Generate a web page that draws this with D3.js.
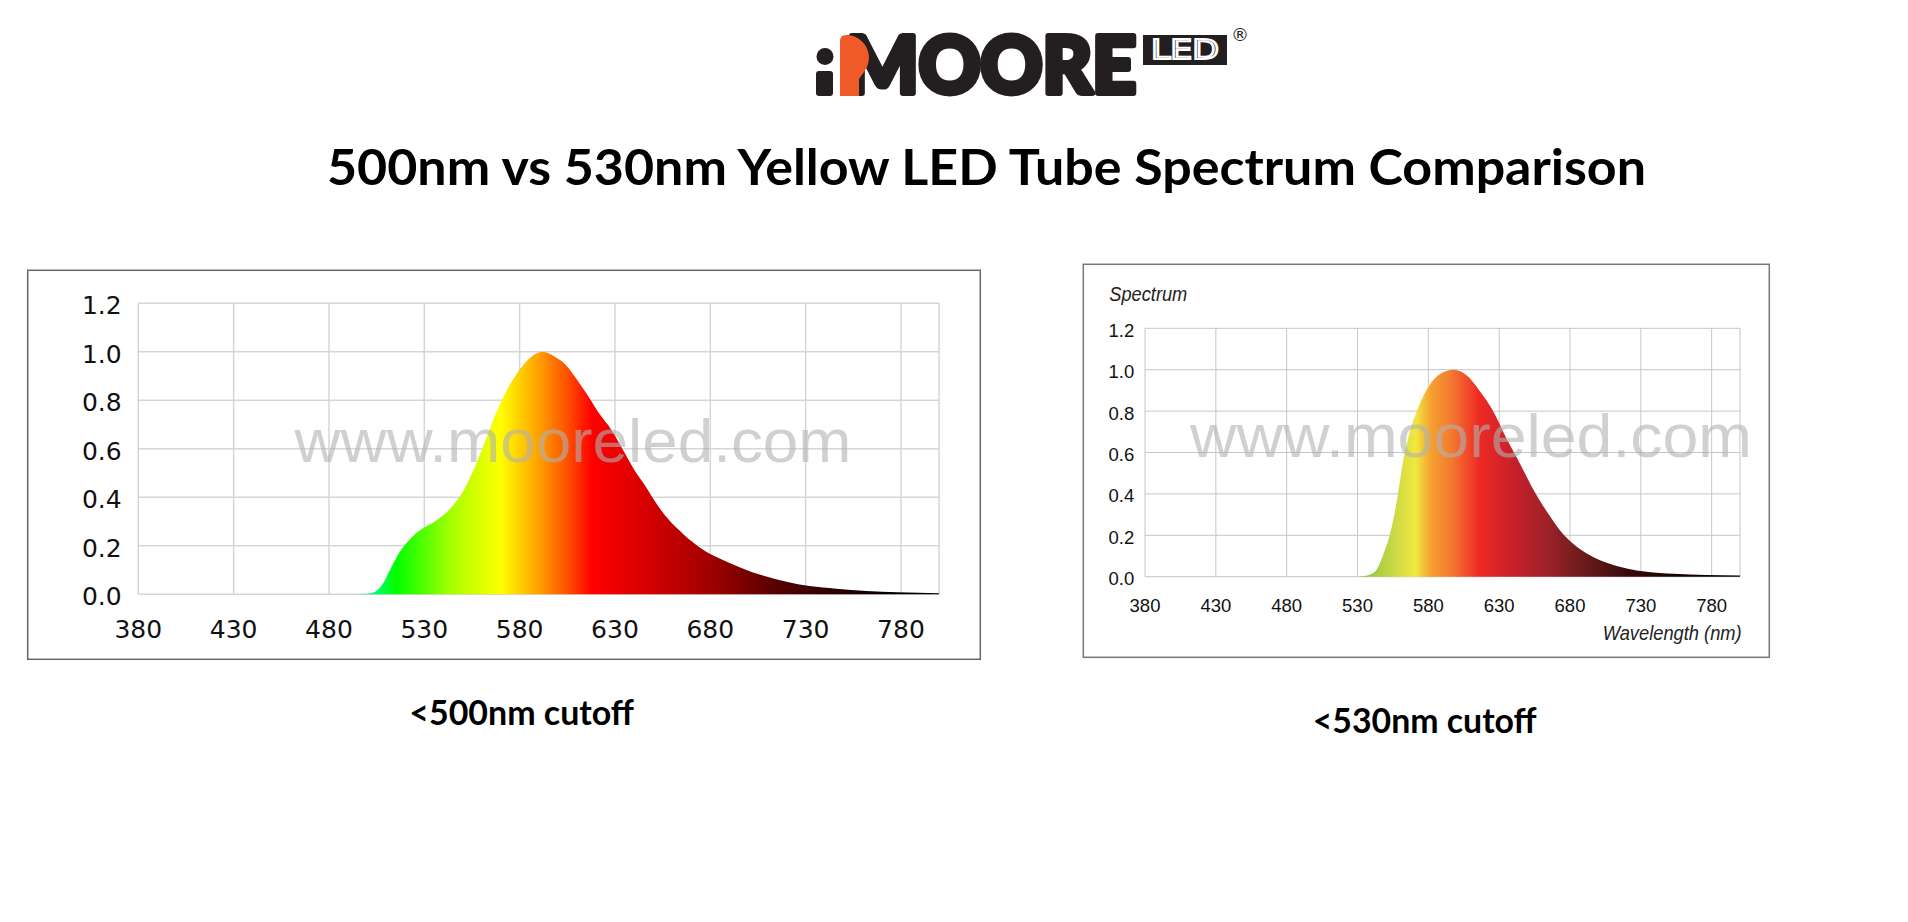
<!DOCTYPE html>
<html>
<head>
<meta charset="utf-8">
<script src="https://cdnjs.cloudflare.com/ajax/libs/d3/7.8.5/d3.min.js"></script>
<style>
body { margin: 0; background: #fff; }
svg { display: block; }
</style>
</head>
<body>
<script>
// spectra (relative intensity vs wavelength, nm)
var waveA = [380, 495, 499, 504, 508, 512, 516, 520, 525, 530, 536, 544, 550, 556, 562, 568, 574, 580, 586, 592,
  598, 604, 610, 616, 622, 628, 634, 640, 646, 652, 658, 666, 676, 686, 696, 708, 720, 732, 746, 762, 778, 800];
var specA = [0, 0, 0.002, 0.01, 0.04, 0.10, 0.16, 0.205, 0.247, 0.275, 0.302, 0.357, 0.42, 0.515, 0.632, 0.755, 0.852, 0.927, 0.979, 1.0,
  0.982, 0.948, 0.886, 0.817, 0.742, 0.68, 0.598, 0.515, 0.446, 0.371, 0.309, 0.247, 0.185, 0.144, 0.11, 0.076, 0.052, 0.034, 0.023, 0.014, 0.008, 0.004];

var waveB = [380, 530, 533, 539, 544, 548, 553, 558, 562, 567, 573, 580, 588, 598, 607, 616, 626, 635, 645, 654,
  664, 673, 682, 694, 706, 720, 734, 753, 776, 800];
var specB = [0, 0, 0.002, 0.011, 0.04, 0.104, 0.207, 0.375, 0.55, 0.70, 0.82, 0.917, 0.978, 1.0, 0.973, 0.90, 0.797, 0.67, 0.542, 0.423,
  0.311, 0.223, 0.16, 0.104, 0.067, 0.04, 0.024, 0.014, 0.008, 0.006];

// colour stops along the wavelength axis
var stopWaveA = [500, 515, 545, 570, 590, 605, 618, 650, 680, 710, 740, 780];
var stopColA = ["#00ff99", "#00ff00", "#aaff00", "#ffff00", "#ffa000", "#ff5000", "#ff0000", "#d00000", "#a00000", "#600000", "#300000", "#000000"];
var stopWaveB = [535, 555, 571, 582, 596, 616, 640, 665, 690, 720, 760, 800];
var stopColB = ["#8dc63f", "#c8d845", "#f0e840", "#f5a030", "#f47a30", "#ee2a24", "#c8202a", "#9b2228", "#6a1a1a", "#3a0a0a", "#150000", "#000000"];

var xTicks = [380, 430, 480, 530, 580, 630, 680, 730, 780];
var yTicks = [0, 0.2, 0.4, 0.6, 0.8, 1.0, 1.2];

var titleText = "500nm vs 530nm Yellow LED Tube Spectrum Comparison";
var captionA = "<500nm cutoff";
var captionB = "<530nm cutoff";
var watermark = "www.mooreled.com";

var svg = d3.select("body").append("svg")
  .attr("width", 1908)
  .attr("height", 922);

var defs = svg.append("defs");

//logo
var logo = svg.append("g");
logo.append("circle").attr("cx", 825).attr("cy", 56.5).attr("r", 8.5).attr("fill", "#231f20");
logo.append("rect").attr("x", 816).attr("y", 71).attr("width", 17).attr("height", 25).attr("rx", 3).attr("fill", "#231f20");
logo.append("text")
  .attr("x", 846).attr("y", 93)
  .attr("textLength", 290).attr("lengthAdjust", "spacingAndGlyphs")
  .style("font-family", "Lato, 'DejaVu Sans'").style("font-weight", 900).style("font-size", "78px")
  .attr("fill", "#231f20").attr("stroke", "#231f20").attr("stroke-width", 6).attr("stroke-linejoin", "round")
  .text("MOORE");
logo.append("path")
  .attr("d", "M840,96 L840,41 Q840,34 848,35 C867,37 875,58 864,72 L859,79 L859,96 Z")
  .attr("fill", "#f05a28");
logo.append("rect").attr("x", 1143).attr("y", 35).attr("width", 84).attr("height", 30).attr("fill", "#231f20");
logo.append("text")
  .attr("x", 1185).attr("y", 59).attr("text-anchor", "middle")
  .attr("textLength", 68).attr("lengthAdjust", "spacingAndGlyphs")
  .style("font-family", "'DejaVu Sans'").style("font-size", "26px")
  .attr("fill", "none").attr("stroke", "#fff").attr("stroke-width", 2)
  .text("LED");
logo.append("text")
  .attr("x", 1240).attr("y", 41).attr("text-anchor", "middle")
  .style("font-family", "'DejaVu Sans'").style("font-size", "18px").attr("fill", "#231f20")
  .text("\u00ae");

//title
svg.append("text")
  .attr("x", 986.5).attr("y", 185).attr("text-anchor", "middle")
  .attr("textLength", 1319).attr("lengthAdjust", "spacingAndGlyphs")
  .style("font-family", "Lato, 'Open Sans', sans-serif").style("font-weight", "bold").style("font-size", "50px")
  .attr("fill", "#000")
  .text(titleText);

//panel settings
var panels = [
  {
    id: "A", wave: waveA, spec: specA, stopWave: stopWaveA, stopCol: stopColA,
    frame: [27.7, 270.3, 980.3, 659.3], frameColor: "#666",
    xr: [138.3, 939.1], yr: [594.3, 303.3],
    gridColor: "#d6d6d6", gridWidth: 1.5,
    font: "'DejaVu Sans', Verdana, sans-serif", fontSize: 25,
    yLabelX: 121.7, yLabelDy: 10.7, xLabelDy: 43.4,
    mark: {x: 294.5, y: 461.7, w: 557, size: 62},
    caption: captionA, cap: {x: 409.3, y: 725, w: 224.7}
  },
  {
    id: "B", wave: waveB, spec: specB, stopWave: stopWaveB, stopCol: stopColB,
    frame: [1083.3, 264.3, 1769.3, 657.3], frameColor: "#777",
    xr: [1145, 1740], yr: [576.7, 328.3],
    gridColor: "#c6c6c6", gridWidth: 1,
    font: "'Liberation Sans', Arial, sans-serif", fontSize: 18.5,
    yLabelX: 1134.3, yLabelDy: 8.4, xLabelDy: 35,
    mark: {x: 1190, y: 456.7, w: 562, size: 62},
    caption: captionB, cap: {x: 1312.7, y: 732.7, w: 224}
  }
];

panels.forEach(function(p) {
  var x = d3.scaleLinear().domain([380, 800]).range(p.xr);
  var y = d3.scaleLinear().domain([0, 1.2]).range(p.yr);
  var g = svg.append("g");

  // outer frame
  g.append("rect")
    .attr("x", p.frame[0]).attr("y", p.frame[1])
    .attr("width", p.frame[2] - p.frame[0]).attr("height", p.frame[3] - p.frame[1])
    .attr("fill", "none").attr("stroke", p.frameColor).attr("stroke-width", 1.5);

  // grid
  g.selectAll(".vgrid").data(xTicks.concat([800])).enter().append("line")
    .attr("x1", function(d) { return x(d); }).attr("x2", function(d) { return x(d); })
    .attr("y1", y(0)).attr("y2", y(1.2))
    .attr("stroke", p.gridColor).attr("stroke-width", p.gridWidth);
  g.selectAll(".hgrid").data(yTicks).enter().append("line")
    .attr("x1", x(380)).attr("x2", x(800))
    .attr("y1", function(d) { return y(d); }).attr("y2", function(d) { return y(d); })
    .attr("stroke", p.gridColor).attr("stroke-width", p.gridWidth);

  // gradient fill along the wavelength
  var grad = defs.append("linearGradient")
    .attr("id", "grad" + p.id)
    .attr("gradientUnits", "userSpaceOnUse")
    .attr("x1", x(380)).attr("x2", x(800)).attr("y1", 0).attr("y2", 0);
  grad.selectAll("stop").data(p.stopWave).enter().append("stop")
    .attr("offset", function(d) { return (d - 380) / 420; })
    .attr("stop-color", function(d, i) { return p.stopCol[i]; });

  var pts = p.wave.map(function(w, i) { return [w, p.spec[i]]; });
  var area = d3.area()
    .x(function(d) { return x(d[0]); })
    .y0(y(0))
    .y1(function(d) { return y(d[1]); })
    .curve(d3.curveMonotoneX);
  g.append("path").datum(pts)
    .attr("d", area)
    .attr("fill", "url(#grad" + p.id + ")");

  // tick labels
  g.selectAll(".ylab").data(yTicks).enter().append("text")
    .attr("x", p.yLabelX).attr("y", function(d) { return y(d) + p.yLabelDy; })
    .attr("text-anchor", "end")
    .style("font-family", p.font).style("font-size", p.fontSize + "px")
    .attr("fill", "#111")
    .text(function(d) { return d3.format(".1f")(d); });
  g.selectAll(".xlab").data(xTicks).enter().append("text")
    .attr("x", function(d) { return x(d); }).attr("y", y(0) + p.xLabelDy)
    .attr("text-anchor", "middle")
    .style("font-family", p.font).style("font-size", p.fontSize + "px")
    .attr("fill", "#111")
    .text(function(d) { return d; });

  // watermark
  g.append("text")
    .attr("x", p.mark.x).attr("y", p.mark.y)
    .attr("textLength", p.mark.w).attr("lengthAdjust", "spacingAndGlyphs")
    .style("font-family", "'Liberation Sans', Arial, sans-serif").style("font-size", p.mark.size + "px")
    .attr("fill", "#b0b0b0").attr("fill-opacity", 0.6)
    .text(watermark);

  // caption under the panel
  svg.append("text")
    .attr("x", p.cap.x).attr("y", p.cap.y)
    .attr("textLength", p.cap.w).attr("lengthAdjust", "spacingAndGlyphs")
    .style("font-family", "Lato, 'Open Sans', sans-serif").style("font-weight", "bold").style("font-size", "35px")
    .attr("fill", "#000")
    .text(p.caption);
});

// axis captions of the right panel
svg.append("text")
  .attr("x", 1109.3).attr("y", 301)
  .attr("textLength", 78).attr("lengthAdjust", "spacingAndGlyphs")
  .style("font-family", "'Liberation Sans', Arial, sans-serif").style("font-style", "italic").style("font-size", "21px")
  .attr("fill", "#222")
  .text("Spectrum");
svg.append("text")
  .attr("x", 1741.7).attr("y", 640).attr("text-anchor", "end")
  .attr("textLength", 139).attr("lengthAdjust", "spacingAndGlyphs")
  .style("font-family", "'Liberation Sans', Arial, sans-serif").style("font-style", "italic").style("font-size", "21px")
  .attr("fill", "#222")
  .text("Wavelength (nm)");
</script>
</body>
</html>
